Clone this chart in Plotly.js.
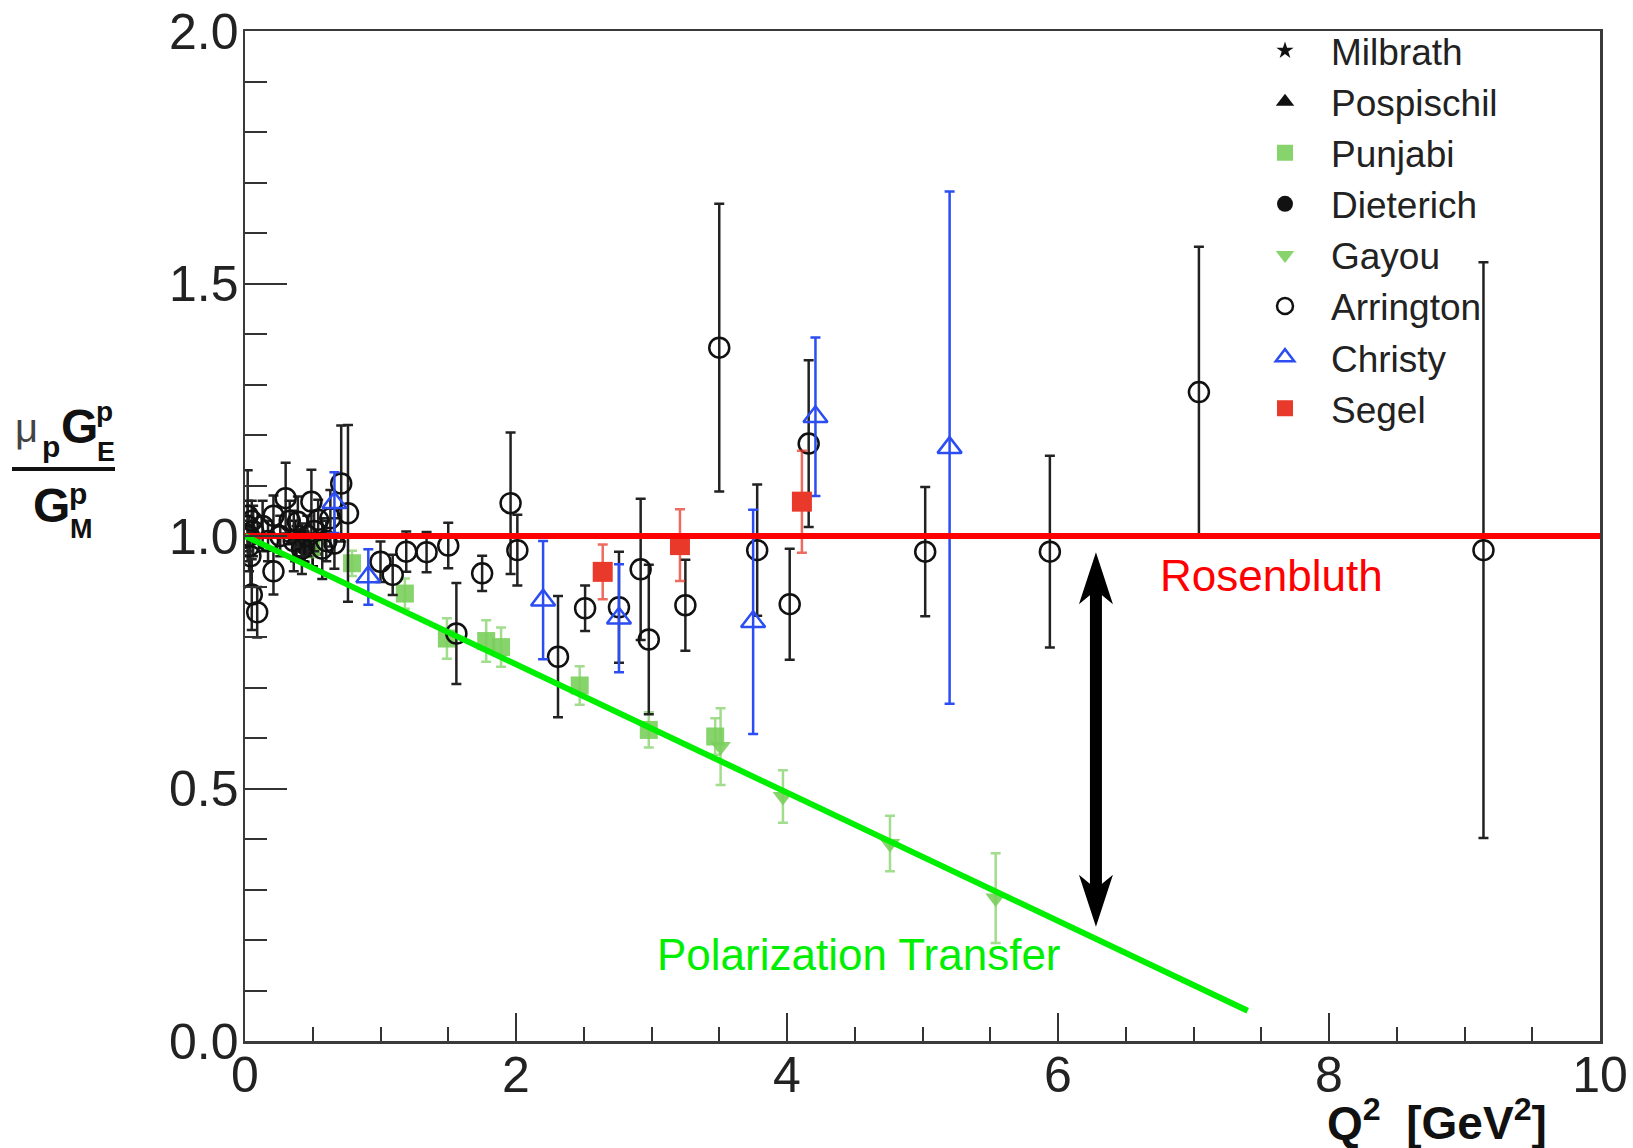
<!DOCTYPE html>
<html><head><meta charset="utf-8">
<script src="https://cdn.plot.ly/plotly-3.0.1.min.js"></script>
<style>html,body{margin:0;padding:0;background:#fff;} #chart{width:1633px;height:1148px;}</style>
</head><body><div id="chart"></div>
<script>
// ---------------- data ----------------
const milbrathQ2 = [0.38, 0.50];
const milbrathR = [0.99, 0.97];
const milbrathErr = [0.03, 0.03];

const pospischilQ2 = [0.37, 0.43, 0.50];
const pospischilR = [0.99, 0.98, 0.97];
const pospischilErr = [0.04, 0.03, 0.03];

const punjabiQ2 = [0.49, 0.79, 1.18, 1.49, 1.78, 1.89, 2.47, 2.98, 3.47];
const punjabiR = [0.978, 0.946, 0.886, 0.797, 0.792, 0.780, 0.704, 0.616, 0.603];
const punjabiErr = [0.02, 0.025, 0.03, 0.04, 0.041, 0.039, 0.038, 0.035, 0.036];

const dieterichQ2 = [0.44];
const dieterichR = [0.979];
const dieterichErr = [0.03];

const gayouQ2 = [3.51, 3.97, 4.76, 5.54];
const gayouR = [0.583, 0.484, 0.391, 0.283];
const gayouErr = [0.076, 0.052, 0.055, 0.089];

const arringtonQ2 = [0.02, 0.02, 0.03, 0.03, 0.04, 0.05, 0.06, 0.05, 0.09,
  0.13, 0.17, 0.21, 0.21, 0.26, 0.30, 0.33, 0.36, 0.39, 0.42, 0.46, 0.49, 0.51,
  0.54, 0.57, 0.60, 0.63, 0.66, 0.71, 0.76,
  1.00, 1.09, 1.19, 1.34, 1.50, 1.56, 1.75, 1.96, 2.01, 2.31, 2.51, 2.76, 2.92,
  2.98, 3.25, 3.50, 3.78, 4.02, 4.16, 5.02, 5.94, 7.04, 9.14];
const arringtonR = [1.04, 1.02, 1.00, 0.98, 0.96, 1.03, 1.01, 0.884, 0.849,
  1.02, 0.99, 1.04, 0.93, 1.00, 1.075, 1.03, 0.99, 1.028, 0.975, 1.00, 1.068, 1.01,
  1.032, 0.975, 0.99, 1.035, 0.985, 1.104, 1.045,
  0.949, 0.923, 0.969, 0.968, 0.981, 0.807, 0.926, 1.065, 0.972, 0.761, 0.857, 0.859, 0.934,
  0.795, 0.863, 1.373, 0.972, 0.865, 1.183, 0.969, 0.969, 1.285, 0.972];
const arringtonErr = [0.09, 0.05, 0.04, 0.05, 0.06, 0.04, 0.05, 0.07, 0.05,
  0.05, 0.04, 0.04, 0.046, 0.04, 0.07, 0.04, 0.06, 0.05, 0.05, 0.04, 0.063, 0.04,
  0.04, 0.06, 0.04, 0.056, 0.05, 0.115, 0.175,
  0.04, 0.04, 0.04, 0.04, 0.045, 0.10, 0.035, 0.14, 0.07, 0.12, 0.045, 0.11, 0.14,
  0.148, 0.09, 0.285, 0.13, 0.11, 0.165, 0.128, 0.19, 0.288, 0.57];

const christyQ2 = [0.66, 0.91, 2.20, 2.76, 3.75, 4.21, 5.20];
const christyR = [1.066, 0.919, 0.873, 0.837, 0.830, 1.236, 1.175];
const christyErr = [0.06, 0.055, 0.117, 0.107, 0.222, 0.157, 0.507];

const segelQ2 = [2.64, 3.21, 4.11];
const segelR = [0.929, 0.982, 1.068];
const segelErr = [0.054, 0.071, 0.101];

// fitted curves (end points)
const rosenbluthQ2 = [0, 10];
const rosenbluthR = [1.0, 1.0];
const polTransferQ2 = [0, 7.4];
const polTransferR = [1.0, 0.06];

// arrow between the two curves
const arrowQ2 = 6.28;
const arrowTop = 0.968;
const arrowBottom = 0.226;

// axis ticks
const xTickVals = [0, 2, 4, 6, 8, 10];
const yTickVals = [0, 0.5, 1.0, 1.5, 2.0];

// ---------------- styling ----------------
const FONT = 'Liberation Sans, Arial, Helvetica, sans-serif';
const GREEN_M = 'rgba(122,206,92,0.9)';
const GREEN_E = 'rgba(122,206,92,0.7)';
const RED_M = '#e8392b';
const BLUE = '#2b4df2';

function errs(arr, color, thick) {
  return {type: 'data', array: arr, visible: true, color: color, thickness: thick || 2.5, width: 5};
}

const traces = [
  {name: 'Milbrath', x: milbrathQ2, y: milbrathR, mode: 'markers', type: 'scatter',
   marker: {symbol: 'star', size: 13, color: '#111'}, error_y: errs(milbrathErr, '#111')},
  {name: 'Pospischil', x: pospischilQ2, y: pospischilR, mode: 'markers', type: 'scatter',
   marker: {symbol: 'triangle-up', size: 18, color: '#111'}, error_y: errs(pospischilErr, '#111')},
  {name: 'Punjabi', x: punjabiQ2, y: punjabiR, mode: 'markers', type: 'scatter',
   marker: {symbol: 'square', size: 18, color: GREEN_M}, error_y: errs(punjabiErr, GREEN_E)},
  {name: 'Dieterich', x: dieterichQ2, y: dieterichR, mode: 'markers', type: 'scatter',
   marker: {symbol: 'circle', size: 18, color: '#111'}, error_y: errs(dieterichErr, '#111')},
  {name: 'Gayou', x: gayouQ2, y: gayouR, mode: 'markers', type: 'scatter',
   marker: {symbol: 'triangle-down', size: 18, color: GREEN_M}, error_y: errs(gayouErr, GREEN_E)},
  {name: 'Arrington', x: arringtonQ2, y: arringtonR, mode: 'markers', type: 'scatter',
   marker: {symbol: 'circle-open', size: 20, color: '#111', line: {width: 2.5, color: '#111'}},
   error_y: errs(arringtonErr, '#222')},
  {name: 'Christy', x: christyQ2, y: christyR, mode: 'markers', type: 'scatter',
   marker: {symbol: 'triangle-up-open', size: 21, color: BLUE, line: {width: 2.5, color: BLUE}},
   error_y: errs(christyErr, BLUE)},
  {name: 'Segel', x: segelQ2, y: segelR, mode: 'markers', type: 'scatter',
   marker: {symbol: 'square', size: 20, color: RED_M}, error_y: errs(segelErr, 'rgba(232,57,43,0.75)')},
  {name: 'Rosenbluth fit', x: rosenbluthQ2, y: rosenbluthR, mode: 'lines', type: 'scatter',
   line: {color: '#ff0000', width: 6}, showlegend: false, hoverinfo: 'skip'},
  {name: 'Polarization Transfer fit', x: polTransferQ2, y: polTransferR, mode: 'lines', type: 'scatter',
   line: {color: '#00ee00', width: 6}, showlegend: false, hoverinfo: 'skip'}
];

// plot-area geometry (pixels)
const W = 1633, H = 1148;
const M = {l: 245, r: 33, t: 31, b: 107};
const PW = W - M.l - M.r, PH = H - M.t - M.b;
function px(x) { return (x - M.l) / PW; }
function py(y) { return (M.t + PH - y) / PH; }

function txt(t, xp, yp, size, opts) {
  return Object.assign({text: t, x: px(xp), y: py(yp), xref: 'paper', yref: 'paper',
    xanchor: 'center', yanchor: 'middle', showarrow: false,
    font: {family: FONT, size: size, color: '#111'}}, opts || {});
}

const annotations = [
  // y-axis title as a fraction
  txt('μ', 27, 428, 40, {font: {family: FONT, size: 40, color: '#444'}}),
  txt('<b>p</b>', 51, 446, 30),
  txt('<b>G</b>', 79, 426, 48),
  txt('<b>p</b>', 104, 411, 28),
  txt('<b>E</b>', 106, 452, 27),
  txt('<b>G</b>', 51, 505, 48),
  txt('<b>p</b>', 78, 494, 30),
  txt('<b>M</b>', 81, 529, 27),
  // x-axis title
  {text: '<b>Q<sup>2</sup>\u00a0\u00a0[GeV<sup>2</sup>]</b>', x: px(1549), y: py(1120), xref: 'paper', yref: 'paper',
   xanchor: 'right', yanchor: 'middle', showarrow: false, font: {family: FONT, size: 46, color: '#111'}},
  // curve labels
  txt('Rosenbluth', 1271, 575, 44, {font: {family: FONT, size: 44, color: '#ff0000'}}),
  txt('Polarization Transfer', 859, 954, 44, {font: {family: FONT, size: 44, color: '#00ee00'}})
];

// double-headed arrow built from shapes (head shapes in pixels, anchored at arrow tips)
const pxPerUnitY = PH / 2;
const arrowLenPx = (arrowTop - arrowBottom) * pxPerUnitY;
const HEAD_L = 52, HEAD_W = 17, NOTCH = 38, SHAFT = 6;
const shapes = [
  {type: 'line', xref: 'paper', yref: 'paper', x0: px(12), x1: px(115), y0: py(469), y1: py(469),
   line: {color: '#111', width: 4}},
  {type: 'path', xref: 'x', yref: 'y', xsizemode: 'pixel', ysizemode: 'pixel',
   xanchor: arrowQ2, yanchor: arrowTop,
   path: `M ${-SHAFT},${-NOTCH+2} L ${SHAFT},${-NOTCH+2} L ${SHAFT},${-(arrowLenPx-NOTCH+2)} L ${-SHAFT},${-(arrowLenPx-NOTCH+2)} Z`,
   fillcolor: '#000', line: {width: 0}},
  {type: 'path', xref: 'x', yref: 'y', xsizemode: 'pixel', ysizemode: 'pixel',
   xanchor: arrowQ2, yanchor: arrowTop,
   path: `M 0,0 L ${HEAD_W},${-HEAD_L} L 0,${-NOTCH} L ${-HEAD_W},${-HEAD_L} Z`,
   fillcolor: '#000', line: {width: 0}},
  {type: 'path', xref: 'x', yref: 'y', xsizemode: 'pixel', ysizemode: 'pixel',
   xanchor: arrowQ2, yanchor: arrowBottom,
   path: `M 0,0 L ${HEAD_W},${HEAD_L} L 0,${NOTCH} L ${-HEAD_W},${HEAD_L} Z`,
   fillcolor: '#000', line: {width: 0}}
];

const axisCommon = {
  ticks: 'inside', tickwidth: 2, tickcolor: '#333',
  showline: true, linewidth: 2.5, linecolor: '#3a3a3a', mirror: true,
  showgrid: false, zeroline: false,
  tickfont: {family: FONT, size: 50, color: '#222'}
};

const layout = {
  width: W, height: H,
  margin: M,
  paper_bgcolor: '#fff', plot_bgcolor: '#fff',
  showlegend: true,
  legend: {x: px(1239), y: py(20), xanchor: 'left', yanchor: 'top',
    bgcolor: 'rgba(0,0,0,0)', borderwidth: 0, itemwidth: 82,
    font: {family: FONT, size: 37, color: '#222'}, itemsizing: 'trace', tracegroupgap: 0},
  xaxis: Object.assign({}, axisCommon, {range: [0, 10], tickvals: xTickVals, ticktext: xTickVals.map(String),
    ticklen: 28, ticklabelstandoff: -12,
    minor: {dtick: 0.5, tick0: 0, ticks: 'inside', ticklen: 14, tickwidth: 2, tickcolor: '#333', showgrid: false}}),
  yaxis: Object.assign({}, axisCommon, {range: [0, 2], tickvals: yTickVals, ticktext: yTickVals.map(v => v.toFixed(1)),
    ticklen: 42, ticklabelstandoff: -6,
    minor: {dtick: 0.1, tick0: 0, ticks: 'inside', ticklen: 22, tickwidth: 2, tickcolor: '#333', showgrid: false}}),
  annotations: annotations,
  shapes: shapes
};

Plotly.newPlot('chart', traces, layout, {staticPlot: true, displayModeBar: false});
</script>
</body></html>
